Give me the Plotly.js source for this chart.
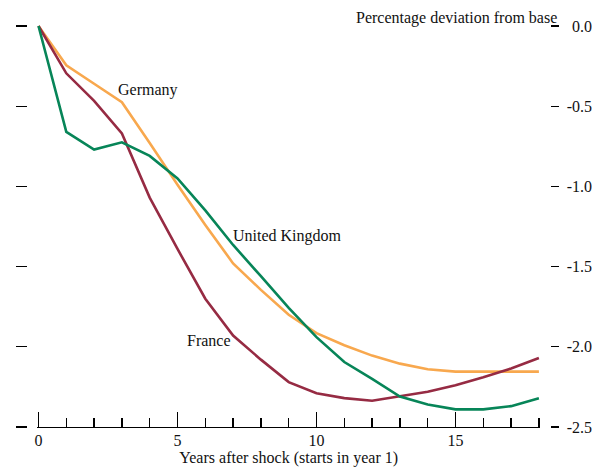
<!DOCTYPE html>
<html>
<head>
<meta charset="utf-8">
<script src="https://cdn.plot.ly/plotly-3.0.1.min.js"></script>
<style>html,body{margin:0;padding:0;background:#fff}</style>
</head>
<body>
<div id="chart" style="width:592px;height:473px"></div>
<script>
const years = [0,1,2,3,4,5,6,7,8,9,10,11,12,13,14,15,16,17,18];
const germany = [0,-0.245,-0.36,-0.475,-0.73,-0.99,-1.24,-1.48,-1.645,-1.80,-1.915,-1.99,-2.055,-2.105,-2.14,-2.155,-2.155,-2.155,-2.155];
const france  = [0,-0.295,-0.467,-0.67,-1.07,-1.39,-1.70,-1.93,-2.08,-2.22,-2.29,-2.32,-2.336,-2.31,-2.28,-2.24,-2.19,-2.135,-2.07];
const uk      = [0,-0.66,-0.77,-0.725,-0.81,-0.95,-1.15,-1.365,-1.56,-1.757,-1.94,-2.095,-2.20,-2.31,-2.36,-2.39,-2.39,-2.37,-2.32];
const yTicks = [0,-0.5,-1.0,-1.5,-2.0,-2.5];
const yTickText = ['0.0','-0.5','-1.0','-1.5','-2.0','-2.5'];
const labels = {germany:'Germany', uk:'United Kingdom', france:'France'};
const yTitle = 'Percentage deviation from base';
const xTitle = 'Years after shock (starts in year 1)';

const W = 592, H = 473;
const px0 = 38.5, pxPerYear = 27.8;
const py0 = 26, pyPerUnit = 160.4;
const xr = [-0.05, 18.05];
const yr = [-2.5, 0.03];
const xDom = [(px0 + xr[0]*pxPerYear)/W, (px0 + xr[1]*pxPerYear)/W];
const yDom = [(H - (py0 - yr[0]*pyPerUnit))/H, (H - (py0 - yr[1]*pyPerUnit))/H];

const font = {family:'"Liberation Serif", "Times New Roman", serif', size:16, color:'#111'};
const lw = 2.6;

const traces = [
  {x:years, y:germany, type:'scatter', mode:'lines', line:{color:'#F8A84E', width:lw}, hoverinfo:'skip'},
  {x:years, y:france, type:'scatter', mode:'lines', line:{color:'#962B43', width:lw}, hoverinfo:'skip'},
  {x:years, y:uk, type:'scatter', mode:'lines', line:{color:'#078558', width:lw}, hoverinfo:'skip'}
];

const common = {range:yr, domain:yDom, tickvals:yTicks, showgrid:false, zeroline:false, showline:false, tickcolor:'#000', tickwidth:1.3};

const layout = {
  width:W, height:H,
  margin:{l:0, r:0, t:0, b:0},
  paper_bgcolor:'#fff', plot_bgcolor:'#fff',
  showlegend:false,
  font:font,
  xaxis:{
    domain:xDom, range:xr, anchor:'y',
    showline:true, linecolor:'#000', linewidth:1.3,
    ticks:'inside', ticklen:15, tickwidth:1.3, tickcolor:'#000',
    tick0:0, dtick:5,
    minor:{dtick:1, tick0:0, ticks:'inside', ticklen:9, tickwidth:1.3, tickcolor:'#000', showgrid:false},
    showgrid:false, zeroline:false,
    tickfont:font, ticklabelstandoff:-2,
    title:{text:xTitle, font:font, standoff:4}
  },
  yaxis: Object.assign({}, common, {anchor:'free', position:27/W, side:'left', ticks:'outside', ticklen:11, showticklabels:false}),
  yaxis2: Object.assign({}, common, {overlaying:'y', anchor:'free', position:550/W, side:'right', ticks:'outside', ticklen:8, showticklabels:false}),
  yaxis3: Object.assign({}, common, {overlaying:'y', anchor:'free', position:1, side:'left', ticks:'', ticktext:yTickText, showticklabels:true, tickfont:font}),
  annotations:[
    {text:labels.germany, xref:'x', yref:'y', x:2.77, y:-0.40, xanchor:'left', yanchor:'middle', showarrow:false, font:font},
    {text:labels.uk, xref:'x', yref:'y', x:6.93, y:-1.31, xanchor:'left', yanchor:'middle', showarrow:false, font:font},
    {text:labels.france, xref:'x', yref:'y', x:5.28, y:-1.96, xanchor:'left', yanchor:'middle', showarrow:false, font:font},
    {text:yTitle, xref:'paper', yref:'paper', x:559/W, y:(H-18)/H, xanchor:'right', yanchor:'middle', showarrow:false, font:font}
  ]
};

traces.push({x:[null], y:[null], yaxis:'y2', type:'scatter', hoverinfo:'skip'});
traces.push({x:[null], y:[null], yaxis:'y3', type:'scatter', hoverinfo:'skip'});

Plotly.newPlot('chart', traces, layout, {staticPlot:true, displayModeBar:false});
</script>
</body>
</html>
